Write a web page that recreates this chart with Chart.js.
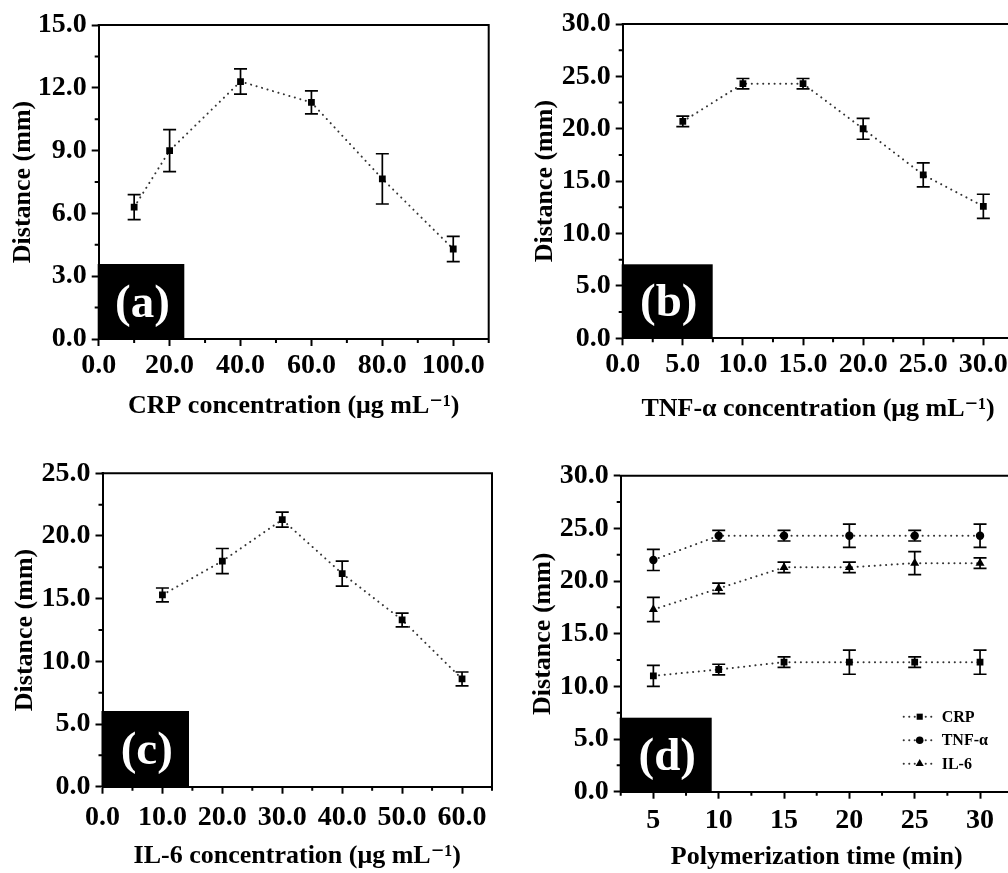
<!DOCTYPE html>
<html><head><meta charset="utf-8">
<script src="https://cdn.jsdelivr.net/npm/chart.js@4.4.0/dist/chart.umd.min.js"></script>
<style>
html,body{margin:0;padding:0;background:#fff;overflow:hidden;width:1008px;height:873px;}
canvas{position:absolute;display:block;}
</style></head><body>
<canvas id="ca" width="500" height="435" style="left:0;top:0"></canvas>
<canvas id="cb" width="520" height="435" style="left:500px;top:0"></canvas>
<canvas id="cc" width="500" height="438" style="left:0;top:435px"></canvas>
<canvas id="cd" width="520" height="438" style="left:500px;top:435px"></canvas>
<script>
// ---- data ----
const crpConc = [10, 20, 40, 60, 80, 100];
const crpDist = [6.3, 9.0, 12.3, 11.3, 7.65, 4.3];
const crpErr  = [0.6, 1.0, 0.6, 0.55, 1.2, 0.6];

const tnfConc = [5, 10, 15, 20, 25, 30];
const tnfDist = [20.7, 24.3, 24.3, 20.0, 15.6, 12.6];
const tnfErr  = [0.5, 0.5, 0.5, 1.0, 1.15, 1.15];

const il6Conc = [10, 20, 30, 40, 50, 60];
const il6Dist = [15.3, 18.0, 21.3, 17.0, 13.3, 8.6];
const il6Err  = [0.55, 1.0, 0.6, 1.0, 0.55, 0.55];

const polyTime   = [5, 10, 15, 20, 25, 30];
const polyCrp    = [11.0, 11.6, 12.3, 12.3, 12.3, 12.3];
const polyCrpErr = [1.0, 0.5, 0.5, 1.15, 0.5, 1.15];
const polyTnf    = [22.0, 24.3, 24.3, 24.3, 24.3, 24.3];
const polyTnfErr = [1.0, 0.5, 0.5, 1.1, 0.5, 1.1];
const polyIl6    = [17.3, 19.3, 21.3, 21.3, 21.7, 21.7];
const polyIl6Err = [1.15, 0.5, 0.5, 0.5, 1.1, 0.5];

const aXTicks = [0, 20, 40, 60, 80, 100];
const aYTicks = [0, 3, 6, 9, 12, 15];
const bXTicks = [0, 5, 10, 15, 20, 25, 30];
const bYTicks = [0, 5, 10, 15, 20, 25, 30];
const cXTicks = [0, 10, 20, 30, 40, 50, 60];
const cYTicks = [0, 5, 10, 15, 20, 25];
const dXTicks = [5, 10, 15, 20, 25, 30];
const dYTicks = [0, 5, 10, 15, 20, 25, 30];

const seriesNames = ['CRP', 'TNF-α', 'IL-6'];
const panelLabels = ['(a)', '(b)', '(c)', '(d)'];
const xTitles = ['CRP concentration (μg mL⁻¹)', 'TNF-α concentration (μg mL⁻¹)', 'IL-6 concentration (μg mL⁻¹)', 'Polymerization time (min)'];
const yTitle = 'Distance (mm)';

// ---- styling ----
const SERIF = "'Liberation Serif','Times New Roman','DejaVu Serif',serif";
Chart.defaults.font.family = SERIF;
Chart.defaults.color = '#000';
const DOT = [0.1, 5.6];

const pts = (xs, ys) => xs.map((x, i) => ({x: x, y: ys[i]}));

function ds(label, xs, ys, errs, style, radius) {
  return {
    label: label, data: pts(xs, ys), err: errs,
    borderColor: '#333', borderWidth: 2, borderDash: DOT, borderCapStyle: 'round',
    pointStyle: style, pointRadius: radius, pointBackgroundColor: '#000', pointBorderColor: '#000', pointBorderWidth: 0,
    tension: 0, fill: false
  };
}

const panelPlugin = {
  id: 'panelDeco',
  beforeDatasetsDraw(chart) {
    const ctx = chart.ctx, xs = chart.scales.x, ys = chart.scales.y;
    ctx.save();
    ctx.strokeStyle = '#000'; ctx.lineWidth = 1.7;
    chart.data.datasets.forEach(d => {
      if (!d.err) return;
      d.data.forEach((p, i) => {
        const e = d.err[i];
        const px = xs.getPixelForValue(p.x);
        const y1 = ys.getPixelForValue(p.y + e), y2 = ys.getPixelForValue(p.y - e);
        ctx.beginPath();
        ctx.moveTo(px, y1); ctx.lineTo(px, y2);
        ctx.moveTo(px - 6.5, y1); ctx.lineTo(px + 6.5, y1);
        ctx.moveTo(px - 6.5, y2); ctx.lineTo(px + 6.5, y2);
        ctx.stroke();
      });
    });
    ctx.restore();
  },
  afterDraw(chart, args, opts) {
    const ctx = chart.ctx, a = chart.chartArea, xs = chart.scales.x, ys = chart.scales.y;
    ctx.save();
    // frame top + right
    ctx.strokeStyle = '#000'; ctx.lineWidth = 2;
    ctx.beginPath();
    ctx.moveTo(a.left - 1, a.top); ctx.lineTo(a.right, a.top); ctx.lineTo(a.right, a.bottom);
    ctx.stroke();
    // minor ticks
    const minor = (tk, mn, mx) => {
      const out = [];
      const st = tk[1] - tk[0];
      for (let v = tk[0] - st / 2; v <= mx + 1e-9; v += st) if (v >= mn - 1e-9) out.push(v);
      return out;
    };
    ctx.beginPath();
    minor(opts.xt, xs.min, xs.max).forEach(v => {
      const p = xs.getPixelForValue(v);
      ctx.moveTo(p, a.bottom); ctx.lineTo(p, a.bottom + 4);
    });
    minor(opts.yt, ys.min, ys.max).forEach(v => {
      const p = ys.getPixelForValue(v);
      ctx.moveTo(a.left, p); ctx.lineTo(a.left - 4, p);
    });
    ctx.stroke();
    // label box
    ctx.fillStyle = '#000';
    ctx.fillRect(a.left - 1, a.bottom - opts.bh, opts.bw + 1, opts.bh);
    ctx.fillStyle = '#fff';
    ctx.font = 'bold 47px ' + SERIF;
    ctx.textAlign = 'center'; ctx.textBaseline = 'middle';
    ctx.fillText(opts.label, a.left + opts.bw / 2 + 1, a.bottom - opts.bh / 2 + 3);
    // legend
    if (opts.legend) {
      ctx.font = 'bold 16px ' + SERIF;
      ctx.textAlign = 'left'; ctx.textBaseline = 'middle';
      chart.data.datasets.forEach((d, i) => {
        const y = a.bottom - 75 + i * 23.5;
        const x0 = a.left + 283;
        ctx.strokeStyle = '#333'; ctx.lineWidth = 2; ctx.setLineDash([0.1, 5.4]); ctx.lineCap = 'round';
        ctx.beginPath(); ctx.moveTo(x0, y); ctx.lineTo(x0 + 30, y); ctx.stroke();
        ctx.setLineDash([]);
        ctx.fillStyle = '#000';
        Chart.helpers.drawPoint(ctx, {pointStyle: d.pointStyle, radius: d.pointRadius * 0.9, borderWidth: 0, rotation: 0}, x0 + 16, y);
        ctx.fillStyle = '#000';
        ctx.fillText(d.label, x0 + 38, y + 1);
      });
    }
    ctx.restore();
  }
};

function make(id, cfg) {
  const tickFont = {size: 28, weight: 'bold', family: SERIF};
  const titleFont = {size: 26, weight: 'bold', family: SERIF};
  return new Chart(document.getElementById(id), {
    type: 'line',
    data: {datasets: cfg.datasets},
    options: {
      responsive: false, animation: false, events: [],
      layout: {padding: {top: cfg.padTop, right: cfg.padRight, left: 0, bottom: 0}},
      plugins: {legend: {display: false}, tooltip: {enabled: false},
        panelDeco: {xt: cfg.xt, yt: cfg.yt, bw: cfg.bw, bh: cfg.bh, label: cfg.label, legend: !!cfg.legend}},
      scales: {
        x: {
          type: 'linear', min: cfg.xmin, max: cfg.xmax,
          afterBuildTicks: s => { s.ticks = cfg.xt.map(v => ({value: v})); },
          afterFit: s => { s.height = cfg.xH; },
          ticks: {font: tickFont, color: '#000', padding: cfg.xPad, autoSkip: false, maxRotation: 0,
            callback: v => cfg.xInt ? String(v) : Number(v).toFixed(1)},
          grid: {display: true, drawOnChartArea: false, drawTicks: true, tickLength: 7, tickWidth: 2, tickColor: '#000'},
          border: {display: true, color: '#000', width: 2},
          title: {display: true, text: cfg.xTitle, font: titleFont, color: '#000', padding: {top: 0, bottom: cfg.xTitlePad}}
        },
        y: {
          type: 'linear', min: cfg.ymin, max: cfg.ymax,
          afterBuildTicks: s => { s.ticks = cfg.yt.map(v => ({value: v})); },
          afterFit: s => { s.width = cfg.yW; },
          ticks: {font: tickFont, color: '#000', padding: 5, autoSkip: false,
            callback: v => Number(v).toFixed(1)},
          grid: {display: true, drawOnChartArea: false, drawTicks: true, tickLength: 7, tickWidth: 2, tickColor: '#000'},
          border: {display: true, color: '#000', width: 2},
          title: {display: true, text: yTitle, font: titleFont, color: '#000', padding: {top: cfg.yTitlePad, bottom: 0}}
        }
      }
    },
    plugins: [panelPlugin]
  });
}

make('ca', {
  datasets: [ds(seriesNames[0], crpConc, crpDist, crpErr, 'rect', 4.8)],
  xmin: 0, xmax: 110, ymin: 0, ymax: 15, xt: aXTicks, yt: aYTicks,
  padTop: 25, padRight: 11.3, yW: 98.7, xH: 96, xPad: 3, xTitlePad: 13.4, yTitlePad: 8,
  xTitle: xTitles[0], label: panelLabels[0], bw: 85.6, bh: 75
});
make('cb', {
  datasets: [ds(seriesNames[1], tnfConc, tnfDist, tnfErr, 'rect', 4.8)],
  xmin: 0, xmax: 32.5, ymin: 0, ymax: 30, xt: bXTicks, yt: bYTicks,
  padTop: 24, padRight: 6.6, yW: 122.7, xH: 96.7, xPad: 3, xTitlePad: 10.4, yTitlePad: 29.4,
  xTitle: xTitles[1], label: panelLabels[1], bw: 90, bh: 74
});
make('cc', {
  datasets: [ds(seriesNames[2], il6Conc, il6Dist, il6Err, 'rect', 4.8)],
  xmin: 0, xmax: 65, ymin: 0, ymax: 25, xt: cXTicks, yt: cYTicks,
  padTop: 38.3, padRight: 8, yW: 102.5, xH: 86.3, xPad: 7, xTitlePad: 1.4, yTitlePad: 9.4,
  xTitle: xTitles[2], label: panelLabels[2], bw: 86.5, bh: 75.7
});
make('cd', {
  datasets: [
    ds(seriesNames[0], polyTime, polyCrp, polyCrpErr, 'rect', 4.8),
    ds(seriesNames[1], polyTime, polyTnf, polyTnfErr, 'circle', 4.2),
    ds(seriesNames[2], polyTime, polyIl6, polyIl6Err, 'triangle', 5.2)
  ],
  xmin: 2.5, xmax: 32.5, ymin: 0, ymax: 30, xt: dXTicks, yt: dYTicks, xInt: true,
  padTop: 40.7, padRight: 7.3, yW: 120.7, xH: 81.3, xPad: 5, xTitlePad: 0, yTitlePad: 27.4,
  xTitle: xTitles[3], label: panelLabels[3], bw: 91, bh: 74, legend: true
});
</script>
</body></html>
